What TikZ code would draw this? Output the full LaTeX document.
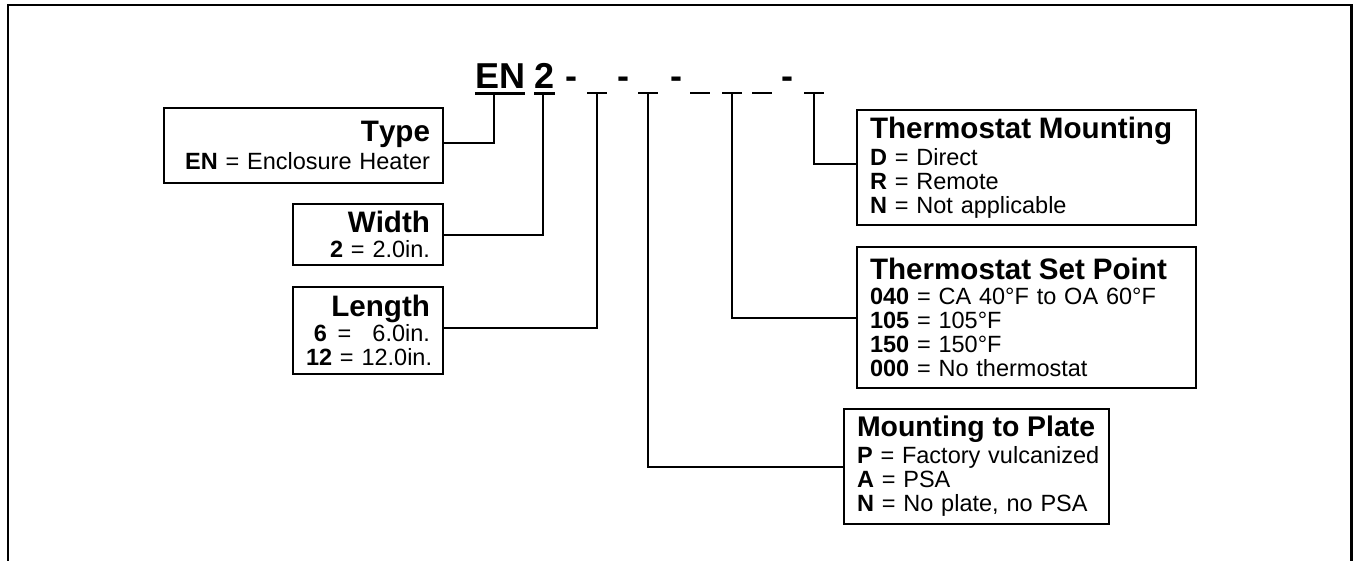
\documentclass[tikz,border=0pt]{standalone}
\usepackage{fontspec}
\setmainfont{Liberation Sans}[Kerning=Off]
\begin{document}
\begin{tikzpicture}[x=1pt,y=-1pt]
\tikzset{
  frame/.style={line width=2.8pt},
  conn/.style={line width=2pt},
  slotline/.style={line width=2pt},
  ulline/.style={line width=3pt},
  code/.style={inner sep=0pt, font=\fontsize{36}{40}\selectfont\bfseries},
  box/.style={draw, line width=2pt, inner xsep=13pt, inner ysep=0pt, anchor=north west,
              font=\fontsize{23.5}{24}\selectfont}
}
\newcommand{\boxtitle}[2][29.6]{\mbox{\fontsize{#1}{30}\selectfont\bfseries #2}}
\useasboundingbox (0,0) rectangle (1354,560);
% outer frame
\draw[frame] (8,561) -- (8,5) -- (1351.5,5) -- (1351.5,561);

% code line
\node[code, anchor=base] (en) at (500,88) {EN};
\node[code, anchor=base] (two) at (544.5,88) {2};
\node[code, anchor=base] (d1) at (571,88) {-};
\node[code, anchor=base] (d2) at (623,88) {-};
\node[code, anchor=base] (d3) at (676,88) {-};
\node[code, anchor=base] (d4) at (787,88) {-};
\draw[ulline] ([yshift=-5pt]en.base west) -- ([yshift=-5pt]en.base east);
\draw[ulline] ([yshift=-5pt]two.base west) -- ([yshift=-5pt]two.base east);

\coordinate (u1) at (597,93);
\coordinate (u2) at (648,93);
\coordinate (u3) at (700,93);
\coordinate (u4) at (732,93);
\coordinate (u5) at (762,93);
\coordinate (u6) at (814,93);
\foreach \u in {u1,u2,u3,u4,u5,u6}
  \draw[slotline] ([xshift=-10pt]\u) -- ([xshift=10pt]\u);

\coordinate (enstem) at (494,93);
\coordinate (twostem) at (543,93);

% boxes
\node[box, text width=253pt, align=right, minimum height=75pt] (type) at (163,107)
  {\boxtitle{Type}\\[4pt] \mbox{\textbf{EN} = Enclosure Heater}};
\node[box, text width=124pt, align=right, minimum height=61pt] (width) at (292,203)
  {\boxtitle{Width}\\[1pt] \mbox{\textbf{2} = 2.0in.}};
\node[box, text width=124pt, align=right, minimum height=87pt] (length) at (292,286)
  {\boxtitle{Length}\\[1pt] \mbox{\textbf{6}\hspace{0.45em}=\hspace{0.9em}6.0in.}\\ \mbox{\textbf{12} = 12.0in.}};
\node[box, text width=313pt, align=left, minimum height=115pt] (tmount) at (856,109)
  {\boxtitle{Thermostat Mounting}\\[3pt] \mbox{\textbf{D} = Direct}\\ \mbox{\textbf{R} = Remote}\\ \mbox{\textbf{N} = Not applicable}};
\node[box, text width=313pt, align=left, minimum height=141pt] (setpt) at (856,246)
  {\boxtitle{Thermostat Set Point}\\[1pt] \mbox{\textbf{040} = CA 40°F to OA 60°F}\\ \mbox{\textbf{105} = 105°F}\\ \mbox{\textbf{150} = 150°F}\\ \mbox{\textbf{000} = No thermostat}};
\node[box, text width=239pt, align=left, minimum height=115pt] (plate) at (843,408)
  {\boxtitle[28.4]{Mounting to Plate}\\[3pt] \mbox{\textbf{P} = Factory vulcanized}\\ \mbox{\textbf{A} = PSA}\\ \mbox{\textbf{N} = No plate, no PSA}};

% connectors
\draw[conn] (enstem) |- ([yshift=2.5pt]type.east);
\draw[conn] (twostem) |- (width.east);
\draw[conn] (u1) |- ([yshift=2.5pt]length.east);
\draw[conn] (u2) |- (plate.west);
\draw[conn] (u4) |- (setpt.west);
\draw[conn] (u6) |- ([yshift=3.5pt]tmount.west);
\end{tikzpicture}
\end{document}
